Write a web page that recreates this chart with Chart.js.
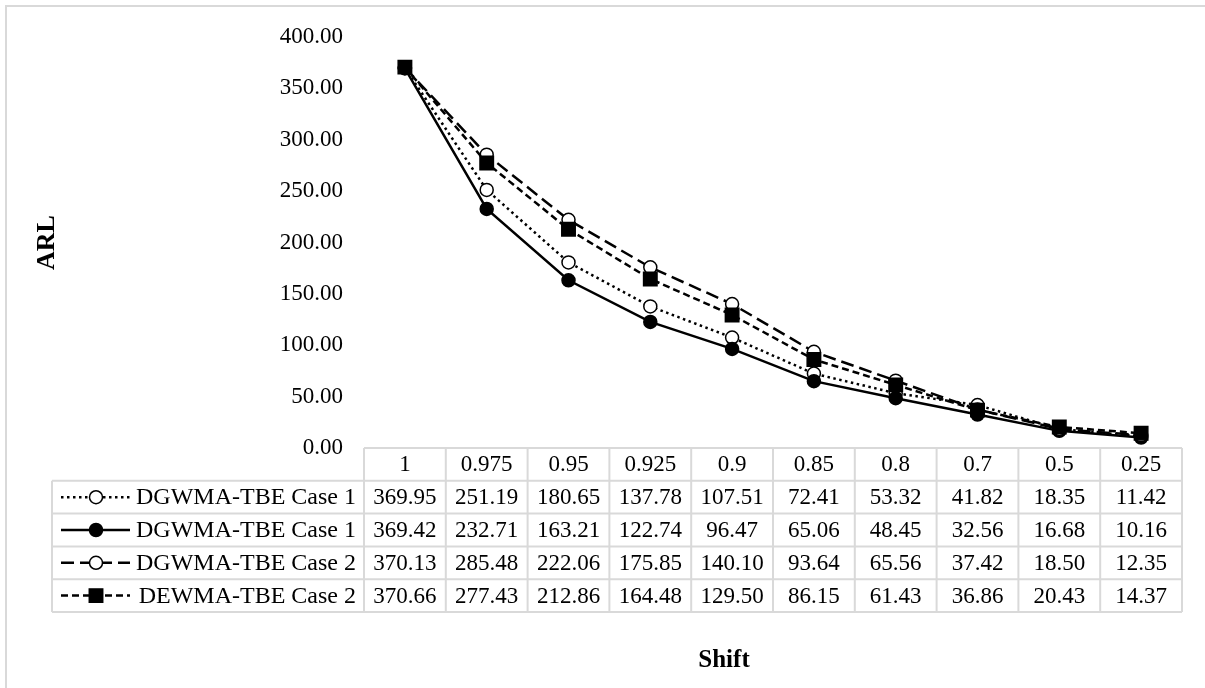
<!DOCTYPE html>
<html>
<head>
<meta charset="utf-8">
<script src="https://cdn.jsdelivr.net/npm/chart.js@4.4.0/dist/chart.umd.min.js"></script>
<style>
  body { margin: 0; background: #fff; }
  canvas { display: block; }
</style>
</head>
<body>
<canvas id="arl" width="1205" height="688"></canvas>
<script>
// categories (shift) and ARL values per scheme
var shifts = ['1', '0.975', '0.95', '0.925', '0.9', '0.85', '0.8', '0.7', '0.5', '0.25'];
var seriesNames = ['DGWMA-TBE Case 1', 'DGWMA-TBE Case 1', 'DGWMA-TBE Case 2', 'DEWMA-TBE Case 2'];
var dgwmaCase1Dot = [369.95, 251.19, 180.65, 137.78, 107.51, 72.41, 53.32, 41.82, 18.35, 11.42];
var dgwmaCase1Solid = [369.42, 232.71, 163.21, 122.74, 96.47, 65.06, 48.45, 32.56, 16.68, 10.16];
var dgwmaCase2 = [370.13, 285.48, 222.06, 175.85, 140.10, 93.64, 65.56, 37.42, 18.50, 12.35];
var dewmaCase2 = [370.66, 277.43, 212.86, 164.48, 129.50, 86.15, 61.43, 36.86, 20.43, 14.37];
var yMin = 0, yMax = 400, yStep = 50;

var serif = '"Liberation Serif", "Times New Roman", serif';
var fontSize = 23;
var gridGray = '#d9d9d9';

function series(label, data, dash, style, radius, fill, order) {
    return {
        label: label,
        data: data,
        borderColor: '#000',
        borderWidth: 2.5,
        borderDash: dash,
        borderCapStyle: 'butt',
        tension: 0,
        fill: false,
        pointStyle: style,
        pointRadius: radius,
        pointBackgroundColor: fill,
        pointBorderColor: '#000',
        pointBorderWidth: 1.5,
        order: order
    };
}

var datasets = [
    series(seriesNames[0], dgwmaCase1Dot, [2.5, 3.5], 'circle', 6.5, '#fff', 3),
    series(seriesNames[1], dgwmaCase1Solid, [], 'circle', 6.5, '#000', 2),
    series(seriesNames[2], dgwmaCase2, [13, 6], 'circle', 6.5, '#fff', 1),
    series(seriesNames[3], dewmaCase2, [7, 4], 'rect', 9.5, '#000', 0)
];

// outer frame + data table under the plot (Excel style)
var tablePlugin = {
    id: 'dataTable',
    beforeDraw: function (chart) {
        var ctx = chart.ctx;
        ctx.save();
        ctx.fillStyle = '#fff';
        ctx.fillRect(0, 0, chart.width, chart.height);
        ctx.strokeStyle = gridGray;
        ctx.lineWidth = 2;
        ctx.strokeRect(6, 6, chart.width + 20, chart.height + 20);
        ctx.restore();
    },
    afterDraw: function (chart) {
        var ctx = chart.ctx;
        var area = chart.chartArea;
        var xs = chart.scales.x;
        var colW = (area.right - area.left) / shifts.length;
        var top = area.bottom;
        var rowH = 32.8;
        var legL = 52;
        var rows = datasets.length;

        ctx.save();
        ctx.strokeStyle = gridGray;
        ctx.lineWidth = 2;
        ctx.beginPath();
        ctx.moveTo(area.left, top);
        ctx.lineTo(area.right, top);
        for (var r = 1; r <= rows + 1; r++) {
            var y = top + r * rowH;
            ctx.moveTo(legL, y);
            ctx.lineTo(area.right, y);
        }
        for (var c = 0; c <= shifts.length; c++) {
            var x = area.left + c * colW;
            ctx.moveTo(x, top);
            ctx.lineTo(x, top + (rows + 1) * rowH);
        }
        ctx.moveTo(legL, top + rowH);
        ctx.lineTo(legL, top + (rows + 1) * rowH);
        ctx.stroke();

        ctx.fillStyle = '#000';
        ctx.font = fontSize + 'px ' + serif;
        ctx.textAlign = 'center';
        ctx.textBaseline = 'middle';
        shifts.forEach(function (s, i) {
            ctx.fillText(s, xs.getPixelForValue(i), top + rowH / 2 + 1);
        });

        datasets.forEach(function (ds, k) {
            var cy = top + (k + 1.5) * rowH + 1;
            ctx.font = fontSize + 'px ' + serif;
            ctx.textAlign = 'center';
            ds.data.forEach(function (v, i) {
                ctx.fillText(v.toFixed(2), xs.getPixelForValue(i), cy);
            });
            ctx.font = '24px ' + serif;
            ctx.textAlign = 'right';
            ctx.fillText(ds.label, 356, cy);

            // legend key
            var ky = cy - 1;
            ctx.save();
            ctx.strokeStyle = '#000';
            ctx.lineWidth = ds.borderWidth;
            ctx.setLineDash(ds.borderDash);
            ctx.beginPath();
            ctx.moveTo(61, ky);
            ctx.lineTo(130, ky);
            ctx.stroke();
            ctx.setLineDash([]);
            ctx.fillStyle = ds.pointBackgroundColor;
            ctx.strokeStyle = ds.pointBorderColor;
            ctx.lineWidth = ds.pointBorderWidth;
            Chart.helpers.drawPoint(ctx, {
                pointStyle: ds.pointStyle,
                rotation: 0,
                radius: ds.pointRadius,
                borderWidth: ds.pointBorderWidth
            }, 96, ky);
            ctx.restore();
        });

        ctx.font = 'bold 25px ' + serif;
        ctx.textAlign = 'center';
        ctx.fillText('Shift', 724, 661);
        ctx.restore();
    }
};

new Chart(document.getElementById('arl'), {
    type: 'line',
    data: { labels: shifts, datasets: datasets },
    plugins: [tablePlugin],
    options: {
        responsive: false,
        animation: false,
        layout: { padding: { top: 37, right: 23, bottom: 240, left: 0 } },
        plugins: {
            legend: { display: false },
            tooltip: { enabled: false }
        },
        scales: {
            x: {
                type: 'category',
                offset: true,
                display: false
            },
            y: {
                min: yMin,
                max: yMax,
                afterFit: function (scale) { scale.width = 364; },
                grid: { display: false, drawTicks: false },
                border: { display: false },
                ticks: {
                    stepSize: yStep,
                    padding: 21,
                    color: '#000',
                    font: { family: serif, size: fontSize },
                    callback: function (v) { return Number(v).toFixed(2); }
                },
                title: {
                    display: true,
                    text: 'ARL',
                    color: '#000',
                    padding: { top: 32, bottom: 0 },
                    font: { family: serif, size: 26, weight: 'bold' }
                }
            }
        }
    }
});
</script>
</body>
</html>
